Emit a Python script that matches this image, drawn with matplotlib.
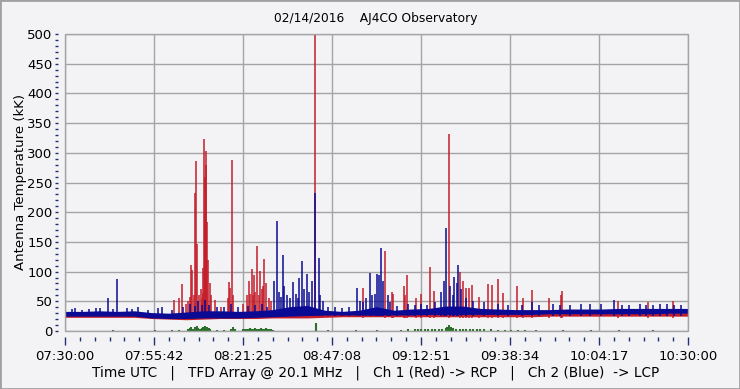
import numpy as np
import matplotlib
matplotlib.use("Agg")
import matplotlib.pyplot as plt
from matplotlib.ticker import MultipleLocator
from matplotlib.patches import Rectangle

# time axis: minutes after 07:30:00 UTC
tick_labels = ["07:30:00", "07:55:42", "08:21:25", "08:47:08",
               "09:12:51", "09:38:34", "10:04:17", "10:30:00"]

# quiet-sky band, sampled every 5 minutes (kK)
band_t = list(range(0, 181, 5))
red_lo = [23, 23, 23, 23, 23, 21, 20, 19, 20, 21, 21, 21, 22, 22, 22, 23, 24, 24, 24,
          24, 24, 24, 24, 24, 24, 24, 24, 24, 25, 25, 25, 25, 25, 25, 25, 25, 25]
red_hi = [29, 29, 29, 29, 29, 27, 26, 27, 29, 29, 29, 30, 30, 30, 30, 30, 30, 30, 30,
          30, 30, 30, 30, 30, 30, 30, 30, 30, 31, 31, 31, 31, 31, 31, 31, 31, 31]
blue_lo = [25, 25, 25, 25, 25, 22, 21, 21, 22, 22, 22, 23, 24, 25, 26, 27, 27, 27, 27,
           27, 27, 28, 28, 28, 28, 28, 28, 28, 29, 29, 29, 29, 29, 29, 29, 30, 30]
blue_hi = [33, 33, 34, 33, 34, 31, 30, 32, 34, 34, 33, 34, 36, 41, 43, 35, 33, 35, 41,
           35, 37, 38, 42, 42, 38, 37, 36, 36, 36, 37, 37, 37, 38, 38, 38, 38, 38]

# Ch 1 (red, RCP) bursts: time (min) and peak (kK)
red_spike_t = [31.6, 33.0, 33.9, 35.0, 35.6, 36.1, 36.4, 36.7, 37.2, 37.6, 37.9, 38.2,
               38.7, 39.2, 39.5, 39.8, 40.0, 40.2, 40.4, 40.5, 40.7, 40.8, 41.1, 41.4,
               41.8, 42.3, 43.4, 45.0, 47.0, 47.3, 47.7, 48.3, 48.5, 51.5, 52.5, 53.1,
               53.5, 53.9, 54.3, 54.7, 55.0, 55.6, 56.0, 56.3, 56.9, 57.3, 57.6, 58.2,
               58.8, 59.5, 72.3, 86.2, 92.5, 94.6, 94.7, 97.9, 98.3, 98.7, 101.5,
               102.8, 105.5, 106.5, 111.0, 114.1, 114.9, 115.9, 116.8, 117.7, 119.5,
               122.2, 123.4, 125.2, 126.5, 130.5, 132.3, 135.0, 139.9, 143.3, 143.5,
               159.9, 168.4, 175.8]
red_spike_v = [53, 55, 79, 45, 50, 58, 111, 103, 60, 233, 286, 146,
               60, 70, 55, 106, 64, 324, 200, 260, 280, 303, 184, 120,
               80, 60, 52, 40, 55, 82, 72, 288, 60, 45, 60, 84,
               62, 104, 60, 94, 65, 143, 60, 101, 70, 75, 122, 80,
               55, 50, 520, 73, 135, 65, 63, 76, 60, 94, 55,
               63, 108, 68, 332, 100, 85, 72, 72, 77, 58,
               79, 77, 88, 64, 76, 55, 69, 55, 60, 67,
               50, 48, 50]

# Ch 2 (blue, LCP) bursts
blue_spike_t = [2, 3, 5, 7, 9, 10, 12.5, 14, 15.1, 18, 19.5, 21, 24, 27, 28.1, 31, 34,
                36, 37.5, 38.5, 39.5, 40.4, 41.5, 44, 46, 48, 50, 53, 55, 57, 58.5,
                60.3, 61.3, 61.8, 62.4, 62.9, 63.4, 64.1, 65, 66.0, 66.7, 67.2, 67.6,
                68.4, 69.1, 69.8, 70.5, 71.3, 72.3, 73.3, 73.7, 74.5, 76, 78, 80, 82,
                84.3, 85.2, 86.0, 87.0, 88.1, 88.7, 89.5, 90.2, 90.7, 91.4, 91.9, 93.3,
                94, 96, 99, 101, 103, 104.5, 107, 108.6, 109.5, 110.2, 111.2, 112.0,
                112.5, 113.3, 113.6, 114.4, 116, 118, 121, 125, 128, 132, 134.9, 137,
                141, 143, 146, 149, 151.7, 155, 158.7, 161, 163, 166, 168, 170, 171.9,
                174, 176, 178]
blue_spike_v = [37, 38, 36, 37, 38, 39, 55, 37, 88, 38, 37, 40, 36, 38, 41, 35, 40,
                45, 42, 50, 44, 52, 43, 40, 41, 45, 40, 42, 44, 45, 41,
                85, 185, 66, 58, 128, 75, 60, 55, 82, 62, 56, 90,
                118, 70, 96, 65, 84, 232, 123, 60, 50, 40, 40, 38, 41,
                72, 50, 48, 55, 97, 60, 62, 96, 94, 139, 85, 60,
                48, 42, 45, 44, 46, 44, 48, 65, 85, 174, 75, 60,
                91, 80, 111, 70, 55, 50, 48, 45, 44, 44, 49, 43,
                45, 43, 44, 45, 46, 45, 52, 43, 44, 45, 43, 44, 46,
                45, 43, 44]

# difference channel (green)
green_t = [14, 26, 31, 33, 35.5, 36, 36.5, 37, 37.5, 38, 38.5, 39, 39.5, 40, 40.5,
           41, 41.5, 42, 44, 46, 48, 48.5, 49, 51.5, 52, 52.5, 53, 53.5, 54, 54.5,
           55, 55.5, 56, 56.5, 57, 57.5, 58, 58.5, 59, 59.5, 60, 72.4, 76, 84, 90,
           97, 99, 101, 102, 103, 104, 105, 106, 107, 108, 109, 110, 110.5, 111,
           111.5, 112, 113, 114, 115, 116, 117, 118, 119, 120, 121, 123, 125, 127,
           129, 131, 133, 136, 144, 152, 160, 170]
green_v = [1, 1, 1, 2, 3, 5, 7, 4, 6, 8, 5, 3, 5, 7, 8, 6, 5, 3, 2, 2, 4, 6, 3,
           3, 4, 3, 4, 5, 4, 4, 5, 3, 4, 5, 4, 3, 5, 4, 3, 3, 2, 13, 1, 1, 1,
           2, 3, 3, 3, 4, 3, 4, 3, 4, 3, 4, 5, 6, 10, 6, 5, 4, 4, 4, 4,
           3, 4, 3, 3, 3, 3, 2, 2, 2, 2, 2, 1, 1, 1, 1, 1]

RED = "#c41e2a"
BLUE = "#0a0a94"
GREEN = "#2a702a"
GRID = "#a4a4a4"
BG = "#f3f3f5"

plt.rcParams["font.family"] = "DejaVu Sans"
plt.rcParams["font.size"] = 9

fig = plt.figure(figsize=(7.4, 3.89), dpi=100, facecolor=BG)
ax = fig.add_axes([65 / 740, 1 - 331 / 389, 623 / 740, 297 / 389])
ax.set_facecolor(BG)

# red channel first, blue over it
ax.fill_between(band_t, red_lo, red_hi, color=RED, lw=0, zorder=2)
ax.vlines(red_spike_t, 22, red_spike_v, color=RED, lw=1.1, zorder=2)
ax.fill_between(band_t, blue_lo, blue_hi, color=BLUE, lw=0, zorder=3)
ax.vlines(blue_spike_t, 26, blue_spike_v, color=BLUE, lw=1.1, zorder=3)
ax.vlines(green_t, 0, green_v, color=GREEN, lw=1.5, zorder=4)

ax.set_xlim(0, 180)
ax.set_ylim(0, 500)

ax.set_xticks(np.linspace(0, 180, 8))
ax.set_xticklabels(tick_labels)
ax.xaxis.set_minor_locator(MultipleLocator(180 / 42))
ax.yaxis.set_major_locator(MultipleLocator(50))
ax.yaxis.set_minor_locator(MultipleLocator(10))

ax.grid(True, which="major", color=GRID, lw=1, zorder=1)
ax.set_axisbelow(True)
for s in ax.spines.values():
    s.set_visible(False)
ax.spines["bottom"].set_position(("outward", 4))
ax.spines["left"].set_position(("outward", 5))
ax.add_patch(Rectangle((0, 0), 1, 1, transform=ax.transAxes, fill=False,
                       ec=GRID, lw=1, clip_on=False, zorder=5))

ax.tick_params(axis="x", which="major", direction="out", length=6, width=1,
               color="#203070", pad=3.5, labelsize=9.5)
ax.tick_params(axis="x", which="minor", direction="out", length=3, width=1,
               color="#203070")
ax.tick_params(axis="y", which="both", direction="out", length=2, width=1,
               color="#203070", pad=2, labelsize=9.5)

ax.set_ylabel("Antenna Temperature (kK)", fontsize=9.5, labelpad=0)
fig.text(0.508, 0.953, "02/14/2016    AJ4CO Observatory", ha="center", va="center",
         fontsize=8.8)
fig.text(0.508, 0.043,
         "Time UTC   |   TFD Array @ 20.1 MHz   |   Ch 1 (Red) -> RCP   |   "
         "Ch 2 (Blue)  -> LCP", ha="center", va="center", fontsize=9.8)

fig.add_artist(Rectangle((0, 0), 1, 1, transform=fig.transFigure, fill=False,
                         ec="#a0a0a0", lw=2))

fig.savefig("out.png", dpi=100, facecolor=BG)
